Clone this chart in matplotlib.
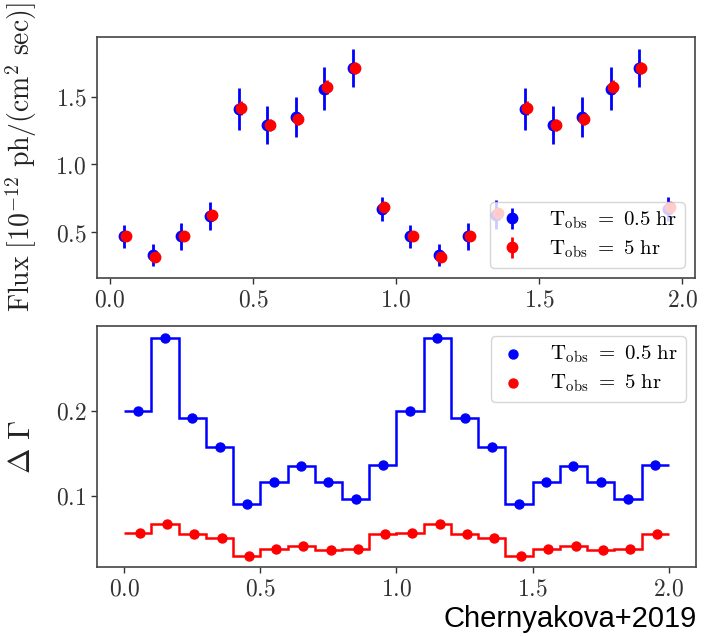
import matplotlib
matplotlib.use("Agg")
import matplotlib.pyplot as plt
import numpy as np
from matplotlib.ticker import FixedLocator, FixedFormatter

plt.rcParams['mathtext.fontset'] = 'cm'
plt.rcParams['font.family'] = ['DejaVu Serif']

# ---- data ----
phase = [0.05, 0.15, 0.25, 0.35, 0.45, 0.55, 0.65, 0.75, 0.85, 0.95,
         1.05, 1.15, 1.25, 1.35, 1.45, 1.55, 1.65, 1.75, 1.85, 1.95]
flux_blue = [0.47, 0.33, 0.47, 0.62, 1.41, 1.29, 1.35, 1.56, 1.71, 0.67,
             0.47, 0.33, 0.47, 0.63, 1.41, 1.29, 1.35, 1.56, 1.71, 0.67]
flux_blue_err = [0.085, 0.08, 0.10, 0.105, 0.155, 0.14, 0.145, 0.16, 0.14, 0.09,
                 0.085, 0.08, 0.10, 0.105, 0.155, 0.14, 0.145, 0.16, 0.14, 0.09]
flux_red = [0.475, 0.32, 0.475, 0.63, 1.415, 1.29, 1.335, 1.57, 1.71, 0.685,
            0.475, 0.32, 0.475, 0.64, 1.415, 1.29, 1.335, 1.57, 1.71, 0.685]
flux_red_err = [0.03, 0.028, 0.032, 0.033, 0.05, 0.045, 0.046, 0.05, 0.045, 0.03,
                0.03, 0.028, 0.032, 0.033, 0.05, 0.045, 0.046, 0.05, 0.045, 0.03]

bin_edges = [0.0, 0.1, 0.2, 0.3, 0.4, 0.5, 0.6, 0.7, 0.8, 0.9, 1.0,
             1.1, 1.2, 1.3, 1.4, 1.5, 1.6, 1.7, 1.8, 1.9, 2.0]
dgamma_blue = [0.200, 0.286, 0.191, 0.158, 0.090, 0.116, 0.135, 0.116, 0.096, 0.136,
               0.200, 0.286, 0.191, 0.158, 0.090, 0.116, 0.135, 0.116, 0.096, 0.136]
dgamma_red = [0.0565, 0.0675, 0.0555, 0.0505, 0.029, 0.038, 0.041, 0.036, 0.038, 0.0555,
              0.057, 0.0675, 0.0555, 0.0505, 0.029, 0.038, 0.041, 0.036, 0.038, 0.0555]
red_shift = 0.008

xticks = [0.0, 0.5, 1.0, 1.5, 2.0]
xticklabels = ['$0.0$', '$0.5$', '$1.0$', '$1.5$', '$2.0$']
top_yticks = [0.5, 1.0, 1.5]
top_yticklabels = ['$0.5$', '$1.0$', '$1.5$']
bot_yticks = [0.1, 0.2]
bot_yticklabels = ['$0.1$', '$0.2$']

label_blue = r'$\mathrm{T_{obs}}\ =\ 0.5\ \mathrm{hr}$'
label_red = r'$\mathrm{T_{obs}}\ =\ 5\ \mathrm{hr}$'

fig = plt.figure(figsize=(7.11, 6.36), dpi=100)
ax1 = fig.add_axes([0.1364, 0.5629, 0.8411, 0.3789])
ax2 = fig.add_axes([0.1364, 0.1085, 0.8425, 0.3789])

spine_col = '#444444'
tick_col = '#333333'
leg_kw = dict(fontsize=15, handlelength=1.4, handletextpad=1.1, borderpad=0.35,
              labelspacing=0.35, borderaxespad=0.5)

# ---- top panel ----
ax1.errorbar(phase, flux_blue, yerr=flux_blue_err, fmt='o', color='blue',
             ms=7.5, elinewidth=2, capsize=0, label=label_blue)
ax1.errorbar(np.array(phase) + red_shift, flux_red, yerr=flux_red_err, fmt='o',
             color='red', ms=7.5, elinewidth=2, capsize=0, label=label_red)
ax1.set_xlim(-0.045, 2.045)
ax1.set_ylim(0.163, 1.94)
ax1.xaxis.set_major_locator(FixedLocator(xticks))
ax1.xaxis.set_major_formatter(FixedFormatter(xticklabels))
ax1.yaxis.set_major_locator(FixedLocator(top_yticks))
ax1.yaxis.set_major_formatter(FixedFormatter(top_yticklabels))
ax1.set_ylabel(r'$\mathrm{Flux}\ [10^{-12}\ \mathrm{ph/(cm^2\ sec)}]$', fontsize=20,
               color='#222222')
ax1.yaxis.set_label_coords(-0.097, 0.5)
ax1.legend(loc='lower right', **leg_kw)

# ---- bottom panel ----
ax2.stairs(dgamma_blue, bin_edges, baseline=None, color='blue', lw=1.8)
ax2.stairs(dgamma_red, bin_edges, baseline=None, color='red', lw=1.8)
ax2.scatter(phase, dgamma_blue, color='blue', s=42, zorder=3, label=label_blue)
ax2.scatter(np.array(phase) + red_shift, dgamma_red, color='red', s=42, zorder=3,
            label=label_red)
ax2.set_xlim(-0.1, 2.1)
ax2.set_ylim(0.0165, 0.2995)
ax2.xaxis.set_major_locator(FixedLocator(xticks))
ax2.xaxis.set_major_formatter(FixedFormatter(xticklabels))
ax2.yaxis.set_major_locator(FixedLocator(bot_yticks))
ax2.yaxis.set_major_formatter(FixedFormatter(bot_yticklabels))
ax2.set_ylabel(r'$\Delta\ \Gamma$', fontsize=22, color='#222222')
ax2.yaxis.set_label_coords(-0.1, 0.5)
ax2.legend(loc='upper right', **leg_kw)

for ax in (ax1, ax2):
    for sp in ax.spines.values():
        sp.set_color(spine_col)
        sp.set_linewidth(1.2)
    ax.tick_params(labelsize=17, colors=tick_col, length=4, width=1)

fig.text(0.98, 0.004, 'Chernyakova+2019', family='Liberation Sans', fontsize=21,
         ha='right', va='bottom', color='black')

fig.savefig('out.png', dpi=100)
